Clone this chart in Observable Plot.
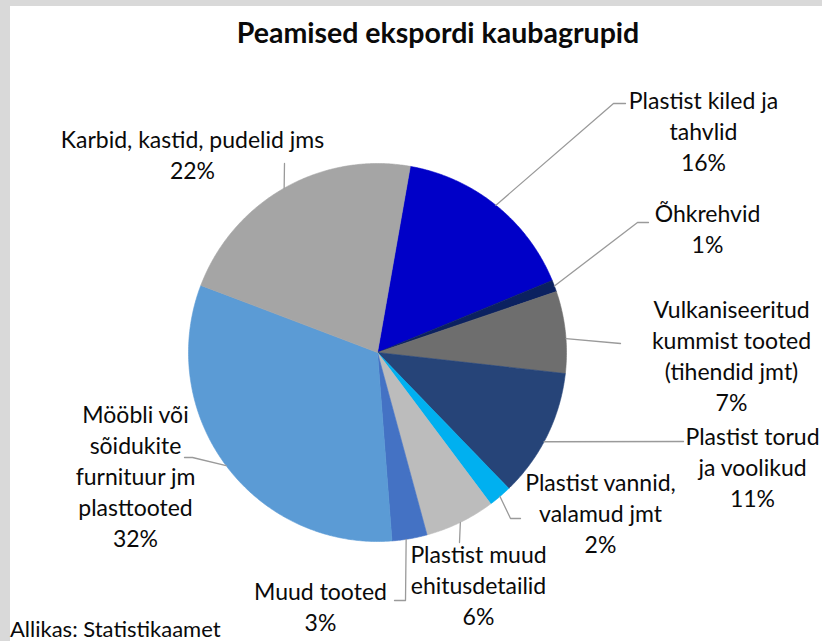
<!DOCTYPE html>
<html>
<head>
<meta charset="utf-8">
<script src="https://cdn.jsdelivr.net/npm/d3@7"></script>
<script src="https://cdn.jsdelivr.net/npm/@observablehq/plot@0.6"></script>
<style>
  html, body { margin: 0; padding: 0; background: #ffffff; }
  #wrap { position: relative; width: 822px; height: 641px; background: #d9d9d9; overflow: hidden; font-family: Lato, "Noto Sans", sans-serif; }
  #panel { position: absolute; left: 10px; top: 6px; right: 0; bottom: 0; background: #ffffff; }
  #title { position: absolute; left: 0; width: 876px; top: 12px; margin: 0; text-align: center; font-size: 28.5px; font-weight: bold; color: #0a0a0a; line-height: 40px; }
  #chart { position: absolute; left: 0; top: 62px; }
  #caption { position: absolute; left: 10px; top: 618px; font-size: 22px; color: #0a0a0a; line-height: 22px; }
</style>
</head>
<body>
<div id="wrap">
  <div id="panel"></div>
  <h2 id="title">Peamised ekspordi kaubagrupid</h2>
  <div id="chart"></div>
  <div id="caption">Allikas: Statistikaamet</div>
</div>
<script>
// ---- data ----
const categories = [
  "Plastist kiled ja tahvlid",
  "Õhkrehvid",
  "Vulkaniseeritud kummist tooted (tihendid jmt)",
  "Plastist torud ja voolikud",
  "Plastist vannid, valamud jmt",
  "Plastist muud ehitusdetailid",
  "Muud tooted",
  "Mööbli või sõidukite furnituur jm plasttooted",
  "Karbid, kastid, pudelid jms"
];
const shares = [16, 1, 7, 11, 2, 6, 3, 32, 22];
const labelLines = [
  ["Plastist kiled ja", "tahvlid"],
  ["Õhkrehvid"],
  ["Vulkaniseeritud", "kummist tooted", "(tihendid jmt)"],
  ["Plastist torud", "ja voolikud"],
  ["Plastist vannid,", "valamud jmt"],
  ["Plastist muud", "ehitusdetailid"],
  ["Muud tooted"],
  ["Mööbli või", "sõidukite", "furnituur jm", "plasttooted"],
  ["Karbid, kastid, pudelid jms"]
];

// ---- styles / layout ----
const colors = ["#0000c8", "#0b2160", "#6e6e6e", "#264478", "#00b0f0", "#bcbcbc", "#4472c4", "#5b9bd5", "#a5a5a5"];
const PIE = {cx: 377, cy: 352, r: 189, startDeg: 10};
const LINE_STEP = 31;
const FONT_SIZE = 23;
const labelLayout = [
  {x: 703, y: 101, lead: [[613, 103], [625, 103]]},
  {x: 707, y: 214, lead: [[637, 222], [648, 222]]},
  {x: 731, y: 310, at: 0.58, lead: [[620, 343]]},
  {x: 752, y: 437, at: 0.55, lead: [[683, 441]]},
  {x: 600, y: 483, lead: [[510, 518], [520, 518]]},
  {x: 478, y: 555, lead: [[459, 542]]},
  {x: 320, y: 592, at: 0.6, lead: [[405, 600], [394, 600]]},
  {x: 135, y: 415, lead: [[192, 457], [184, 457]]},
  {x: 192, y: 140, lead: [[284, 163]]}
];

// ---- build ----
const table = categories.map((c, i) => ({cat: c, value: shares[i]}));
const arcs = d3.pie().sort(null).value(d => d.value)
  .startAngle(PIE.startDeg * Math.PI / 180)
  .endAngle(PIE.startDeg * Math.PI / 180 + 2 * Math.PI)(table);

const px = a => PIE.cx + PIE.r * Math.sin(a);
const py = a => PIE.cy - PIE.r * Math.cos(a);

const slicePts = [];
arcs.forEach(a => {
  const n = Math.max(2, Math.ceil((a.endAngle - a.startAngle) / (Math.PI / 360)));
  slicePts.push({cat: a.data.cat, x: PIE.cx, y: PIE.cy});
  for (let k = 0; k <= n; k++) {
    const t = a.startAngle + (a.endAngle - a.startAngle) * k / n;
    slicePts.push({cat: a.data.cat, x: px(t), y: py(t)});
  }
  slicePts.push({cat: a.data.cat, x: PIE.cx, y: PIE.cy});
});

const leaderPts = [];
const textRows = [];
arcs.forEach((a, i) => {
  const L = labelLayout[i];
  const f = L.at ?? 0.5;
  const ang = a.startAngle + (a.endAngle - a.startAngle) * f;
  leaderPts.push({cat: a.data.cat, x: px(ang), y: py(ang)});
  L.lead.forEach(([x, y]) => leaderPts.push({cat: a.data.cat, x, y}));
  const lines = [...labelLines[i], `${a.data.value}%`];
  lines.forEach((t, k) => textRows.push({text: t, x: L.x, y: L.y + k * LINE_STEP}));
});

const chart = Plot.plot({
  width: 822,
  height: 579,
  margin: 0,
  x: {domain: [0, 822], range: [0, 822], axis: null},
  y: {domain: [62, 641], range: [0, 579], axis: null},
  color: {domain: categories, range: colors},
  style: {background: "transparent", overflow: "visible"},
  marks: [
    Plot.line(slicePts, {x: "x", y: "y", z: "cat", fill: "cat", stroke: "cat", strokeWidth: 0.6, curve: "linear"}),
    Plot.line(leaderPts, {x: "x", y: "y", z: "cat", stroke: "#9a9a9a", strokeWidth: 1.3, curve: "linear"}),
    Plot.text(textRows, {x: "x", y: "y", text: "text", fontSize: FONT_SIZE, fill: "#0a0a0a", fontFamily: "Lato, 'Noto Sans', sans-serif"})
  ]
});
document.getElementById("chart").appendChild(chart);
</script>
</body>
</html>
